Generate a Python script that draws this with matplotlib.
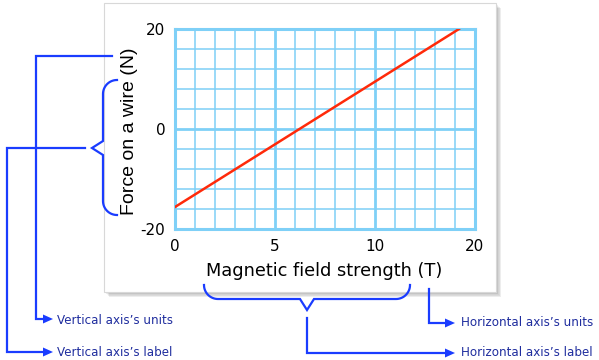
import numpy as np
import matplotlib
matplotlib.use("Agg")
import matplotlib.pyplot as plt
from matplotlib.patches import Rectangle, Polygon

# data (grid: 1 unit per small square on x, 4 on y)
field_strength = [0, 14.2]
force = [-15.6, 20]
x_ticks = [0, 5, 10, 15]
x_tick_labels = ["0", "5", "10", "20"]
y_ticks = [-20, 0, 20]
y_tick_labels = ["-20", "0", "20"]

GRID = "#7fd0f7"
LINE_RED = "#ff2a0a"
NOTE_LINE = "#1a3cff"
NOTE_TEXT = "#1f2d9e"

W, H = 599, 360
fig = plt.figure(figsize=(W / 100, H / 100), dpi=100)

# overlay in pixel coordinates for the panel and the call-outs
ov = fig.add_axes([0, 0, 1, 1], zorder=0)
ov.set_xlim(0, W)
ov.set_ylim(H, 0)
ov.axis("off")

# panel with soft shadow
for i in range(1, 10):
    ov.add_patch(Rectangle((104 + i * 0.6, 3 + i * 0.6), 392, 289,
                           facecolor="black", edgecolor="none",
                           alpha=0.035))
ov.add_patch(Rectangle((104, 3), 392, 289, facecolor="white",
                       edgecolor="#d8d8d8", lw=0.8))


def arc(cx, cy, r, a0, a1):
    t = np.radians(np.linspace(a0, a1, 20))
    return list(cx + r * np.cos(t)), list(cy + r * np.sin(t))


def brace_v():
    r = 14
    xs, ys = arc(117, 94, r, -90, -180)
    xs += [103, 92, 103]
    ys += [141, 148, 155]
    ax2, ay2 = arc(117, 201, r, 180, 90)
    return xs + ax2, ys + ay2


def brace_h():
    r = 14
    xs, ys = arc(218, 285, r, 180, 90)
    xs += [300, 307, 314]
    ys += [299, 310, 299]
    ax2, ay2 = arc(396, 285, r, 90, 0)
    return xs + ax2, ys + ay2


def arrow_head(x, y):
    ov.add_patch(Polygon([(x, y), (x - 10, y - 4.5), (x - 10, y + 4.5)],
                         closed=True, facecolor=NOTE_LINE,
                         edgecolor="none", zorder=3))


kw = dict(color=NOTE_LINE, lw=1.6, solid_joinstyle="miter", zorder=3)

bx, by = brace_v()
ov.plot(bx, by, **kw)
bx, by = brace_h()
ov.plot(bx, by, **kw)

ov.plot([112, 36, 36, 46], [56, 56, 319, 319], **kw)
arrow_head(53, 319)
ov.plot([85, 7, 7, 46], [148, 148, 352, 352], **kw)
arrow_head(53, 352)
ov.plot([429, 429, 448], [289, 323, 323], **kw)
arrow_head(455, 323)
ov.plot([307, 307, 448], [318, 353, 353], **kw)
arrow_head(455, 353)

tkw = dict(color=NOTE_TEXT, fontsize=8.6, va="center", ha="left",
           family="DejaVu Sans")
ov.text(57, 320, "Vertical axis\u2019s units", **tkw)
ov.text(57, 353, "Vertical axis\u2019s label", **tkw)
ov.text(461, 323, "Horizontal axis\u2019s units", **tkw)
ov.text(461, 353, "Horizontal axis\u2019s label", **tkw)

# the chart itself
ax = fig.add_axes([175 / W, 1 - 229 / H, 300 / W, 200 / H], zorder=2)
ax.set_xlim(0, 15)
ax.set_ylim(-20, 20)

for xv in range(1, 15):
    ax.axvline(xv, color=GRID, lw=2 if xv % 5 == 0 else 1.1, zorder=1)
for yv in range(-16, 20, 4):
    ax.axhline(yv, color=GRID, lw=2 if yv == 0 else 1.1, zorder=1)
for s in ax.spines.values():
    s.set_color(GRID)
    s.set_linewidth(2.2)

ax.plot(field_strength, force, color=LINE_RED, lw=1.8, zorder=3)

ax.set_xticks(x_ticks)
ax.set_xticklabels(x_tick_labels)
ax.set_yticks(y_ticks)
ax.set_yticklabels(y_tick_labels)
ax.tick_params(length=0, labelsize=11, pad=7)

ax.set_xlabel("Magnetic field strength (T)", fontsize=12.8, va="center")
ax.xaxis.set_label_coords((324 - 175) / 300, (229 - 271) / 200)
ax.set_ylabel("Force on a wire (N)", fontsize=14, va="center",
              family="Liberation Sans")
ax.yaxis.set_label_coords((129 - 175) / 300, (229 - 131.5) / 200)

fig.savefig("out.png", dpi=100)
